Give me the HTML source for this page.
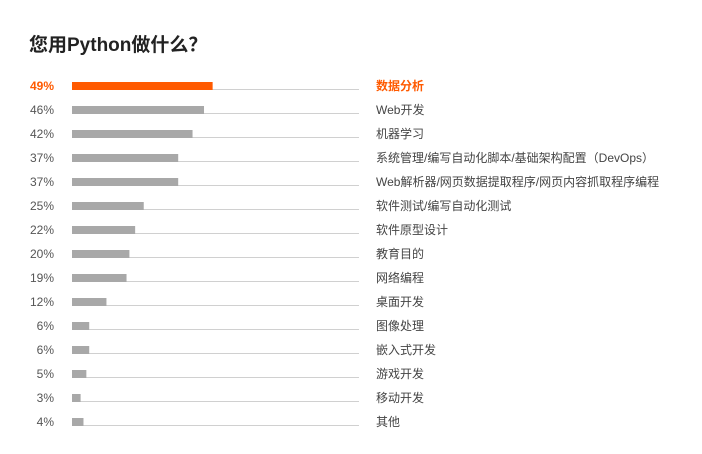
<!DOCTYPE html>
<html><head><meta charset="utf-8"><style>
body{margin:0;background:#fff;width:702px;height:454px;overflow:hidden;font-family:"Liberation Sans","Noto Sans CJK SC",sans-serif;}
h1{position:absolute;left:29px;top:30px;margin:0;font-size:19px;font-weight:bold;color:#222;}
</style></head><body>
<h1>您用Python做什么？</h1>
<svg id="c" width="702" height="454" style="position:absolute;left:0;top:0"></svg>
<script>
const categories=["数据分析","Web开发","机器学习","系统管理/编写自动化脚本/基础架构配置（DevOps）","Web解析器/网页数据提取程序/网页内容抓取程序编程","软件测试/编写自动化测试","软件原型设计","教育目的","网络编程","桌面开发","图像处理","嵌入式开发","游戏开发","移动开发","其他"];
const values=[49,46,42,37,37,25,22,20,19,12,6,6,5,3,4];
const svg=document.getElementById('c');
const NS='http://www.w3.org/2000/svg';
const x0=72,x1=359;
function xs(v){return x0+(x1-x0)*v/100;}
function ys(i){return 82+i*24;}
function mk(t,a){const e=document.createElementNS(NS,t);for(const k in a)e.setAttribute(k,a[k]);svg.appendChild(e);return e;}
values.forEach((v,i)=>{
  const hi=i===0;
  const y=ys(i);
  const tr=mk('line',{x1:x0,x2:x1,y1:y+7.5,y2:y+7.5,stroke:'#d0d0d0','stroke-width':1});
  
  
  const b=mk('rect',{x:x0,y:y,width:xs(v)-x0,height:8,fill:hi?'#ff5a00':'#a8a8a8'});
  
  
  const p=mk('text',{x:54,y:y+8,'text-anchor':'end','font-size':12,fill:hi?'#ff5a00':'#555','font-weight':hi?'bold':'normal'});
  p.textContent=v+'%';
  
  
  const c=mk('text',{x:376,y:y+8,'font-size':12,fill:hi?'#ff5a00':'#444','font-weight':hi?'bold':'normal'});
  c.textContent=categories[i];
  
  
});
</script>
</body></html>
